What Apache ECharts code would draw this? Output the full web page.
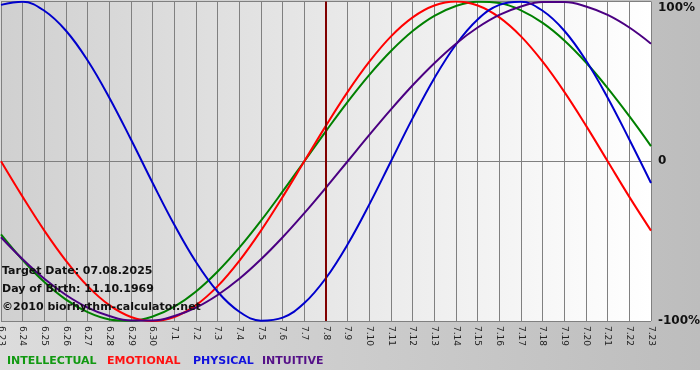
<!DOCTYPE html>
<html>
<head>
<meta charset="utf-8">
<script src="https://cdn.jsdelivr.net/npm/echarts@6/dist/echarts.min.js"></script>
<style>
html,body{margin:0;padding:0;background:#ffffff;}
#chart{width:700px;height:370px;background:linear-gradient(to right,#dcdcdc,#bdbdbd);}
</style>
</head>
<body>
<div id="chart"></div>
<script>
const categories = ['6.23','6.24','6.25','6.26','6.27','6.28','6.29','6.30','7.1','7.2','7.3','7.4','7.5','7.6','7.7','7.8','7.9','7.10','7.11','7.12','7.13','7.14','7.15','7.16','7.17','7.18','7.19','7.20','7.21','7.22','7.23'];
const intellectual = [-45.8,-61.8,-75.6,-86.6,-94.5,-99.0,-99.9,-97.2,-91.0,-81.5,-69.0,-54.1,-37.2,-18.9,0,18.9,37.2,54.1,69.0,81.5,91.0,97.2,99.9,99.0,94.5,86.6,75.6,61.8,45.8,28.2,9.5];
const emotional = [0,-22.3,-43.4,-62.3,-78.2,-90.1,-97.5,-100,-97.5,-90.1,-78.2,-62.3,-43.4,-22.3,0,22.3,43.4,62.3,78.2,90.1,97.5,100,97.5,90.1,78.2,62.3,43.4,22.3,0,-22.3,-43.4];
const physical = [97.9,99.8,94.2,81.7,63.1,39.8,13.6,-13.6,-39.8,-63.1,-81.7,-94.2,-99.8,-97.9,-88.8,-73.1,-52.0,-27.0,0,27.0,52.0,73.1,88.8,97.9,99.8,94.2,81.7,63.1,39.8,13.6,-13.6];
const intuitive = [-47.6,-61.4,-73.6,-83.7,-91.6,-96.9,-99.7,-99.7,-96.9,-91.6,-83.7,-73.6,-61.4,-47.6,-32.5,-16.5,0,16.5,32.5,47.6,61.4,73.6,83.7,91.6,96.9,99.7,99.7,96.9,91.6,83.7,73.6];
const yTicks = {'100':'100%','0':'0','-100':'-100%'};
const targetDay = '7.8';
const infoLines = ['Target Date: 07.08.2025','Day of Birth: 11.10.1969','\u00A92010 biorhythm-calculator.net'];
const legendNames = ['INTELLECTUAL','EMOTIONAL','PHYSICAL','INTUITIVE'];

const lineColors = ['#008000','#ff0000','#0000cc','#4b0082'];
const legendColors = ['#119911','#ff1111','#1111dd','#551188'];

const chart = echarts.init(document.getElementById('chart'), null, {renderer:'canvas'});
function mk(name, data, color, extra){
  return Object.assign({
    name: name, type:'line', data: data, smooth: 0.4, symbol:'none',
    lineStyle:{color: color, width: 2}, itemStyle:{color: color}, silent:true, animation:false
  }, extra||{});
}
const series = [
  mk(legendNames[0], intellectual, lineColors[0], {
    markLine:{symbol:'none', silent:true, label:{show:false}, animation:false,
      lineStyle:{color:'#800000', width:2, type:'solid'}, data:[{xAxis: targetDay}]}
  }),
  mk(legendNames[1], emotional, lineColors[1]),
  mk(legendNames[2], physical, lineColors[2]),
  mk(legendNames[3], intuitive, lineColors[3])
];
const graphics = [];
const infoY = [271, 289, 307];
infoLines.forEach((t,i)=>{
  graphics.push({type:'text', x:2, y:infoY[i], z:100, silent:true,
    style:{text:t, fill:'#111111', font:'bold 11px "DejaVu Sans"', verticalAlign:'middle'}});
});
const legendX = [7, 107, 193, 262];
legendNames.forEach((t,i)=>{
  graphics.push({type:'text', x:legendX[i], y:361, silent:true,
    style:{text:t, fill:legendColors[i], font:'bold 11px "DejaVu Sans"', verticalAlign:'middle'}});
});
chart.setOption({
  backgroundColor:'transparent',
  animation:false,
  grid:{left:1, right:49, top:1.5, bottom:49, show:true, borderWidth:0, containLabel:false, outerBoundsMode:'none',
    backgroundColor: new echarts.graphic.LinearGradient(0,0,1,0,[{offset:0,color:'#d0d0d0'},{offset:1,color:'#ffffff'}])},
  xAxis:{type:'category', data:categories, boundaryGap:false,
    axisLine:{show:true, lineStyle:{color:'#808080', width:1}},
    axisTick:{show:true, alignWithLabel:true, length:4, lineStyle:{color:'#808080'}},
    axisLabel:{interval:0, rotate:-90, margin:5, color:'#222222', fontSize:9, fontFamily:'DejaVu Sans'},
    splitLine:{show:true, interval:0, lineStyle:{color:'#808080', width:1}}},
  yAxis:{type:'value', position:'right', min:-100, max:100, interval:100,
    axisLine:{show:false}, axisTick:{show:false},
    axisLabel:{margin:7, color:'#111111', fontSize:12, fontWeight:'bold', fontFamily:'DejaVu Sans',
      verticalAlignMaxLabel:'top',
      formatter:(v)=>yTicks[String(v)]},
    splitLine:{show:true, lineStyle:{color:'#808080', width:1}}},
  series: series,
  graphic: graphics
});
</script>
</body>
</html>
